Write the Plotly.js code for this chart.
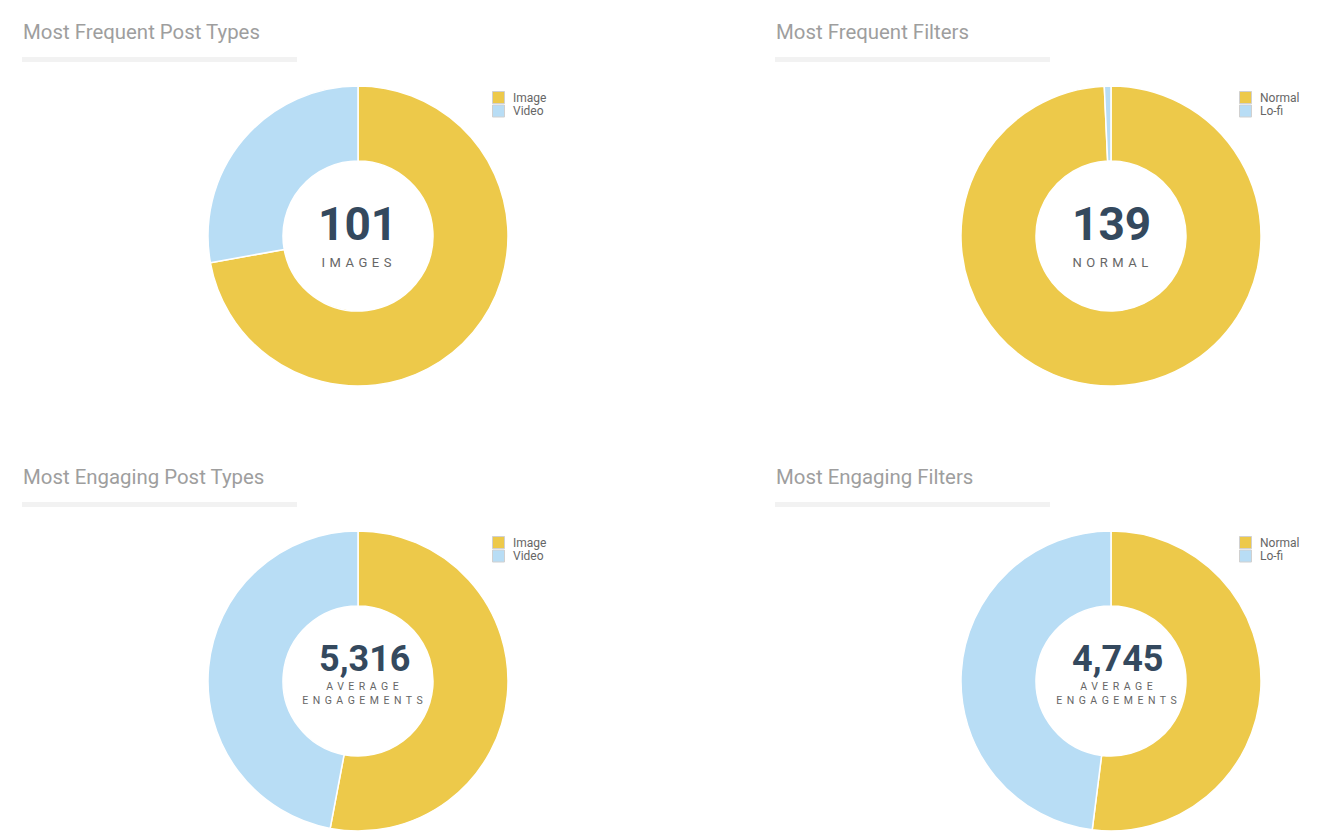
<!DOCTYPE html>
<html>
<head>
<meta charset="utf-8">
<script src="https://cdn.plot.ly/plotly-3.0.1.min.js"></script>
<style>
html,body{margin:0;padding:0;background:#fff;}
#chart{width:1336px;height:840px;}
</style>
<style id="spacing"></style>
</head>
<body>
<div id="chart"></div>
<script>
// ---- data ----
const titles = ["Most Frequent Post Types", "Most Frequent Filters", "Most Engaging Post Types", "Most Engaging Filters"];
const postTypeLabels = ["Image", "Video"];
const filterLabels = ["Normal", "Lo-fi"];
const freqPostTypeValues = [101, 39];
const freqFilterValues = [139, 1];
const engPostTypeValues = [5316, 4720];
const engFilterValues = [4745, 4380];
const centerNumbers = ["101", "139", "5,316", "4,745"];
const centerCaptions = [["IMAGES"], ["NORMAL"], ["AVERAGE", "ENGAGEMENTS"], ["AVERAGE", "ENGAGEMENTS"]];
const colors = ["#EDC94A", "#B8DDF5"];

const W = 1336, H = 840;
const px = x => x / W;
const py = y => 1 - y / H;

// panel geometry (pixels)
const panels = [
  {cx: 358, cy: 236, tx: 22, ty: 32, lx: 492, ly: 91, labels: postTypeLabels, values: freqPostTypeValues},
  {cx: 1111, cy: 236, tx: 775, ty: 32, lx: 1239, ly: 91, labels: filterLabels, values: freqFilterValues},
  {cx: 358, cy: 681, tx: 22, ty: 477, lx: 492, ly: 536, labels: postTypeLabels, values: engPostTypeValues},
  {cx: 1111, cy: 681, tx: 775, ty: 477, lx: 1239, ly: 536, labels: filterLabels, values: engFilterValues}
];
const R = 150;

const traces = [];
const annotations = [];
const shapes = [];
const spacedIdx = [];
const layout = {
  width: W, height: H,
  margin: {l: 0, r: 0, t: 0, b: 0, pad: 0},
  paper_bgcolor: "#fff",
  plot_bgcolor: "#fff",
  font: {family: "Roboto, sans-serif", color: "#666"},
  hovermode: false,
  showlegend: false
};

panels.forEach((p, i) => {
  traces.push({
    type: "pie",
    name: titles[i],
    labels: p.labels,
    values: p.values,
    hole: 0.5,
    sort: false,
    direction: "clockwise",
    rotation: 0,
    textinfo: "none",
    hoverinfo: "skip",
    marker: {colors: colors, line: {color: "#ffffff", width: 1.5}},
    domain: {x: [px(p.cx - R), px(p.cx + R)], y: [py(p.cy + R), py(p.cy - R)]},
    showlegend: false
  });
  const twoLine = centerCaptions[i].length > 1;
  // big number
  annotations.push({
    xref: "paper", yref: "paper",
    x: px(p.cx + (twoLine ? 6 : 0)), y: py(p.cy + (twoLine ? -22 : -12)),
    text: "<b>" + centerNumbers[i] + "</b>",
    showarrow: false, xanchor: "center", yanchor: "middle",
    font: {family: "Roboto, sans-serif", size: twoLine ? 36 : 46, color: "#34495E"}
  });
  // caption (one text block, lines joined)
  spacedIdx.push(annotations.length);
  annotations.push({
    xref: "paper", yref: "paper",
    x: px(p.cx + (twoLine ? 7 : 1)), y: py(p.cy + (twoLine ? 12 : 26)),
    text: centerCaptions[i].join("<br>"),
    showarrow: false, xanchor: "center", yanchor: "middle",
    font: {family: "Roboto, sans-serif", size: twoLine ? 10.5 : 13, color: "#666"}
  });
  // title
  annotations.push({
    xref: "paper", yref: "paper",
    x: px(p.tx - 1), y: py(p.ty),
    text: titles[i],
    showarrow: false, xanchor: "left", yanchor: "middle",
    font: {family: "Roboto, sans-serif", size: 20.4, color: "#9E9E9E"}
  });
  shapes.push({
    type: "rect", xref: "paper", yref: "paper",
    x0: px(p.tx), x1: px(p.tx + 275), y0: py(p.ty + 30), y1: py(p.ty + 25),
    fillcolor: "#F2F2F2", line: {width: 0}
  });
  // legend (manual, compact)
  p.labels.forEach((lab, k) => {
    const top = p.ly + k * 13.5;
    shapes.push({
      type: "rect", xref: "paper", yref: "paper",
      x0: px(p.lx + 0.5), x1: px(p.lx + 12.5), y0: py(top + 12.5), y1: py(top + 0.5),
      fillcolor: colors[k], line: {color: "#D0D0D0", width: 1}
    });
    annotations.push({
      xref: "paper", yref: "paper",
      x: px(p.lx + 19), y: py(top + 6.5),
      text: lab,
      showarrow: false, xanchor: "left", yanchor: "middle",
      font: {family: "Roboto, sans-serif", size: 12, color: "#666"}
    });
  });
});

layout.annotations = annotations;
layout.shapes = shapes;

document.getElementById("spacing").textContent =
  spacedIdx.map(i => '.annotation[data-index="' + i + '"] text').join(",") + "{letter-spacing:4.5px;}";

Plotly.newPlot("chart", traces, layout, {displayModeBar: false, staticPlot: true});
</script>
</body>
</html>
